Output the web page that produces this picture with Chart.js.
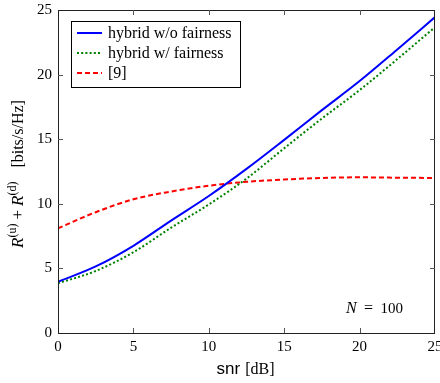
<!DOCTYPE html>
<html><head><meta charset="utf-8">
<script src="https://cdn.jsdelivr.net/npm/chart.js@4.4.0/dist/chart.umd.min.js"></script>
<style>html,body{margin:0;padding:0;background:#fff}canvas{display:block}</style>
</head><body>
<canvas id="c" width="440" height="383"></canvas>
<script>
// ---- data ----
const snr = [0, 2.5, 5, 7.5, 10, 12.5, 15, 17.5, 20, 22.5, 25];
const hybridNoFair = [3.96, 5.15, 6.75, 8.7, 10.6, 12.7, 14.95, 17.25, 19.5, 21.95, 24.45];
const hybridFair   = [3.85, 4.8, 6.25, 8.15, 9.95, 11.95, 14.3, 16.6, 18.8, 21.2, 23.67];
const ref9         = [8.1, 9.35, 10.35, 10.95, 11.4, 11.7, 11.88, 12.0, 12.05, 12.02, 12.0];
const xTicks = [0, 5, 10, 15, 20, 25];
const yTicks = [0, 5, 10, 15, 20, 25];
const seriesNames = ['hybrid w/o fairness', 'hybrid w/ fairness', '[9]'];

const SERIF = '"Liberation Serif", "DejaVu Serif", serif';
const SANS = '"Liberation Sans", Arial, sans-serif';

function pts(ys) { return snr.map((x, i) => ({ x: x, y: ys[i] })); }

const decor = {
  id: 'decor',
  afterDatasetsDraw(chart) {
    const ctx = chart.ctx, a = chart.chartArea;
    const xs = chart.scales.x, ys = chart.scales.y;
    ctx.save();
    // frame
    ctx.strokeStyle = '#222';
    ctx.lineWidth = 1;
    ctx.strokeRect(Math.round(a.left) + 0.5, Math.round(a.top) + 0.5,
      Math.round(a.right - a.left) - 1, Math.round(a.bottom - a.top));
    // inward ticks on all sides
    const tl = 5;
    ctx.strokeStyle = '#555';
    ctx.beginPath();
    xTicks.forEach(v => {
      if (v === xs.min || v === xs.max) return;
      const p = Math.round(xs.getPixelForValue(v)) + 0.5;
      ctx.moveTo(p, a.bottom); ctx.lineTo(p, a.bottom - tl);
      ctx.moveTo(p, a.top); ctx.lineTo(p, a.top + tl);
    });
    yTicks.forEach(v => {
      if (v === ys.min || v === ys.max) return;
      const p = Math.round(ys.getPixelForValue(v)) + 0.5;
      ctx.moveTo(a.left, p); ctx.lineTo(a.left + tl, p);
      ctx.moveTo(a.right, p); ctx.lineTo(a.right - tl, p);
    });
    ctx.stroke();

    // legend box
    const lx = 71, ly = 21, lw = 169, lh = 66;
    ctx.fillStyle = '#fff';
    ctx.fillRect(lx, ly, lw, lh);
    ctx.strokeStyle = '#000';
    ctx.strokeRect(lx + 0.5, ly + 0.5, lw, lh);
    chart.data.datasets.forEach((ds, i) => {
      const y = 33 + i * 20;
      ctx.save();
      ctx.strokeStyle = ds.borderColor;
      ctx.lineWidth = ds.borderWidth;
      ctx.setLineDash(ds.borderDash || []);
      ctx.beginPath(); ctx.moveTo(77, y); ctx.lineTo(102, y); ctx.stroke();
      ctx.restore();
      ctx.fillStyle = '#000';
      ctx.font = '16px ' + SERIF;
      ctx.textBaseline = 'alphabetic';
      ctx.textAlign = 'left';
      ctx.fillText(ds.label, 108, y + 5);
    });

    // annotation N = 100
    ctx.fillStyle = '#000';
    ctx.textBaseline = 'alphabetic';
    ctx.textAlign = 'left';
    ctx.font = 'italic 16px ' + SERIF;
    ctx.fillText('N', 346, 313);
    ctx.font = '16px ' + SERIF;
    ctx.fillText('=', 364, 313);
    ctx.font = '15px ' + SERIF;
    ctx.textAlign = 'right';
    ctx.fillText('100', 403, 313);
    ctx.textAlign = 'left';

    // x axis title
    ctx.font = '17px ' + SANS;
    const w1 = ctx.measureText('snr').width;
    ctx.font = '16px ' + SERIF;
    const w2 = ctx.measureText(' [dB]').width;
    const cx = 245;
    let tx = cx - (w1 + w2) / 2;
    ctx.font = '17px ' + SANS;
    ctx.fillText('snr', tx, 374);
    ctx.font = '16px ' + SERIF;
    ctx.fillText(' [dB]', tx + w1 + 1, 374);

    // y axis title (rotated)
    const parts = [
      { t: 'R', f: 'italic 17px ' + SERIF, dy: 0, gap: 0 },
      { t: '(u)', f: '12px ' + SERIF, dy: -7, gap: 4 },
      { t: '+', f: '17px ' + SERIF, dy: 0, gap: 4 },
      { t: 'R', f: 'italic 17px ' + SERIF, dy: 0, gap: 0 },
      { t: '(d)', f: '12px ' + SERIF, dy: -7, gap: 14 },
      { t: '[bits/s/Hz]', f: '16px ' + SERIF, dy: 0, gap: 0 }
    ];
    let total = 0;
    parts.forEach(p => { ctx.font = p.f; p.w = ctx.measureText(p.t).width; total += p.w + p.gap; });
    ctx.translate(23, 174);
    ctx.rotate(-Math.PI / 2);
    let px = -total / 2;
    parts.forEach(p => { ctx.font = p.f; ctx.fillText(p.t, px, p.dy); px += p.w + p.gap; });
    ctx.restore();
  }
};

new Chart(document.getElementById('c'), {
  type: 'line',
  data: {
    datasets: [
      { label: seriesNames[0], data: pts(hybridNoFair), borderColor: '#0000ff', borderWidth: 2, pointRadius: 0, cubicInterpolationMode: 'monotone', fill: false },
      { label: seriesNames[1], data: pts(hybridFair), borderColor: '#008000', borderWidth: 2, borderDash: [2, 2.2], pointRadius: 0, cubicInterpolationMode: 'monotone', fill: false },
      { label: seriesNames[2], data: pts(ref9), borderColor: '#ff0000', borderWidth: 2, borderDash: [5, 3], pointRadius: 0, cubicInterpolationMode: 'monotone', fill: false }
    ]
  },
  options: {
    responsive: false,
    animation: false,
    devicePixelRatio: 1,
    layout: { padding: { top: 10, right: 5, left: 0, bottom: 0 } },
    plugins: { legend: { display: false }, tooltip: { enabled: false } },
    scales: {
      x: {
        type: 'linear', min: 0, max: 25,
        afterBuildTicks: s => { s.ticks = xTicks.map(v => ({ value: v })); },
        afterFit: s => { s.height = 50; s.paddingLeft = 0; s.paddingRight = 0; },
        grid: { display: false, drawTicks: false },
        border: { display: false },
        ticks: { color: '#000', padding: 5, maxRotation: 0, autoSkip: false, font: { family: SERIF, size: 15 } }
      },
      y: {
        type: 'linear', min: 0, max: 25,
        afterBuildTicks: s => { s.ticks = yTicks.map(v => ({ value: v })); },
        afterFit: s => { s.width = 58; s.paddingTop = 0; s.paddingBottom = 0; },
        grid: { display: false, drawTicks: false },
        border: { display: false },
        ticks: { color: '#000', padding: 6, autoSkip: false, font: { family: SERIF, size: 15 } }
      }
    }
  },
  plugins: [decor]
});
</script>
</body></html>
